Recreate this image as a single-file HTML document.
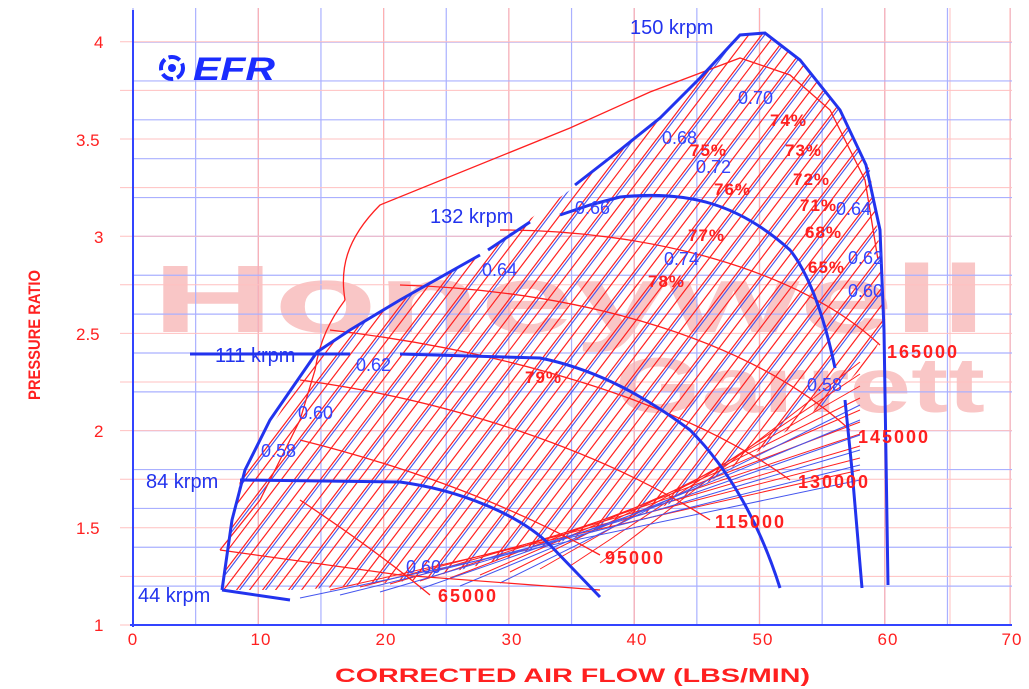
<!DOCTYPE html>
<html><head><meta charset="utf-8"><style>
html,body{margin:0;padding:0;background:#fff;}
svg{display:block;font-family:"Liberation Sans",sans-serif;}
</style></head><body>
<svg id="s" width="1029" height="689" viewBox="0 0 1029 689" xmlns="http://www.w3.org/2000/svg">
<defs>
<clipPath id="map"><polygon points="222,590 240,480 317,350 400,300 480,255 570,190 660,120 740,35 765,33 800,60 840,110 870,170 882,270 885,330 870,360 830,400 760,450 680,500 600,530 500,560 420,580 300,590"/></clipPath>
</defs>
<text x="152" y="332" font-size="96" font-weight="bold" fill="#f9c6c6" textLength="835" lengthAdjust="spacingAndGlyphs">Honeywell</text>
<text x="615" y="412" font-size="78" font-weight="bold" fill="#f9c6c6" textLength="370" lengthAdjust="spacingAndGlyphs">Garrett</text>
<g id="grid"></g>
<line x1="133" y1="10" x2="133" y2="627" stroke="#3344ff" stroke-width="2"/>
<line x1="130" y1="625" x2="1012" y2="625" stroke="#3344ff" stroke-width="2"/>
<g id="hatch" clip-path="url(#map)"></g>
<g id="extra"></g>
<path d="M345,300 C340,270 345,240 380,205 L570,128 L650,92 L740,58 L790,75 L830,110 L865,180 L878,260" fill="none" stroke="#ff2020" stroke-width="1.3"/>
<path d="M345,300 C330,320 320,340 315,370 L300,420 L260,500 L220,550" fill="none" stroke="#ff2020" stroke-width="1.3"/>
<path d="M220,550 L400,575 L600,590" fill="none" stroke="#ff2020" stroke-width="1.2"/>
<g fill="none" stroke="#ff2020" stroke-width="1.3">
<path d="M300,500 C360,540 400,570 430,595"/>
<path d="M300,440 C420,470 520,510 600,555"/>
<path d="M300,380 C450,400 600,450 710,520"/>
<path d="M330,330 C500,350 680,400 790,480"/>
<path d="M400,285 C560,290 740,330 850,430"/>
<path d="M500,230 C650,230 800,270 880,345"/>
</g>
<g fill="none" stroke="#2233ee" stroke-width="3">
<path d="M222,590 L232,520 L245,470 L270,420 L317,352 L350,330 L400,300 L480,255"/>
<path d="M488,250 L530,222"/>
<path d="M575,185 L620,150 L660,118 L700,78 L740,35 L765,33 L800,60 L840,110 L866,165 L880,230 L884,330 L888,585"/>
<path d="M560,215 L590,205 L620,197 C690,190 740,205 790,250 C810,275 825,320 835,368"/>
<path d="M190,354 L350,354"/><path d="M400,354 L540,358 C600,370 650,400 690,430 C730,470 760,525 780,588"/>
<path d="M240,480 L400,482 C460,490 520,515 550,545 L600,597"/>
<path d="M222,590 L290,600"/>
<path d="M845,400 L852,470 L862,588"/>
</g>
<g fill="#2233ee" font-size="20">
<text x="630" y="34">150 krpm</text>
<text x="430" y="223">132 krpm</text>
<text x="215" y="362">111 krpm</text>
<text x="146" y="488">84 krpm</text>
<text x="138" y="602">44 krpm</text>
</g>
<g fill="#3344ff" font-size="18">
<text x="738" y="104">0.70</text><text x="662" y="144">0.68</text><text x="696" y="173">0.72</text>
<text x="575" y="214">0.66</text><text x="482" y="276">0.64</text><text x="664" y="265">0.74</text>
<text x="836" y="215">0.64</text><text x="848" y="264">0.62</text><text x="848" y="297">0.60</text>
<text x="807" y="391">0.58</text><text x="356" y="371">0.62</text><text x="298" y="419">0.60</text>
<text x="261" y="457">0.58</text><text x="406" y="573">0.60</text>
</g>
<g fill="#ff2020" font-size="17" font-weight="bold" letter-spacing="1">
<text x="770" y="126">74%</text><text x="690" y="156">75%</text><text x="785" y="156">73%</text>
<text x="714" y="195">76%</text><text x="793" y="185">72%</text><text x="800" y="211">71%</text>
<text x="688" y="241">77%</text><text x="805" y="238">68%</text><text x="808" y="273">65%</text>
<text x="648" y="287">78%</text><text x="525" y="383">79%</text>
</g>
<g fill="#ff2020" font-size="18" font-weight="bold" letter-spacing="2">
<text x="887" y="358">165000</text><text x="858" y="443">145000</text><text x="798" y="488">130000</text>
<text x="715" y="528">115000</text><text x="605" y="564">95000</text><text x="438" y="602">65000</text>
</g>
<g fill="#ff2020" font-size="17">
<text x="94" y="48">4</text><text x="76" y="146">3.5</text><text x="94" y="243">3</text>
<text x="76" y="340">2.5</text><text x="94" y="437">2</text><text x="76" y="534">1.5</text><text x="94" y="631">1</text>
</g>
<g fill="#ff2020" font-size="17" text-anchor="middle" letter-spacing="1">
<text x="133" y="645">0</text><text x="261" y="645">10</text><text x="386" y="645">20</text><text x="512" y="645">30</text>
<text x="637" y="645">40</text><text x="763" y="645">50</text><text x="888" y="645">60</text><text x="1012" y="645">70</text>
</g>
<text x="335" y="682" fill="#ff2020" font-size="19" font-weight="bold" textLength="475" lengthAdjust="spacingAndGlyphs">CORRECTED AIR FLOW (LBS/MIN)</text>
<text transform="translate(40,335) rotate(-90)" fill="#ff2020" font-size="17" font-weight="bold" text-anchor="middle" textLength="130" lengthAdjust="spacingAndGlyphs">PRESSURE RATIO</text>
<circle cx="172" cy="68" r="11" fill="none" stroke="#1a2cff" stroke-width="4" stroke-dasharray="12 4"/>
<circle cx="172" cy="68" r="4" fill="#1a2cff"/>
<text x="193" y="80" fill="#1a2cff" font-size="32" font-weight="bold" font-style="italic" textLength="82" lengthAdjust="spacingAndGlyphs">EFR</text>
<script>
var ns="http://www.w3.org/2000/svg";
function L(g,x1,y1,x2,y2,c,w){var l=document.createElementNS(ns,"line");l.setAttribute("x1",x1);l.setAttribute("y1",y1);l.setAttribute("x2",x2);l.setAttribute("y2",y2);l.setAttribute("stroke",c);l.setAttribute("stroke-width",w);g.appendChild(l);}
var g=document.getElementById("grid");
for(var i=0;i<=14;i++){var x=133+i*62.65;L(g,x,8,x,625,"#aab0ff",1.2);}
for(var i=1;i<=7;i++){var x=133+i*125.3;L(g,x,8,x,625,"#ffb0b0",1.2);}
L(g,950,8,950,625,"#ffc0c0",1);
for(var k=0;k<16;k++){var y=625-k*38.86;L(g,133,y,1012,y,"#aab0ff",1.2);}
for(var k=0;k<13;k++){var y=625-k*48.6;L(g,120,y,1012,y,"#ffc0c0",1);}
var h=document.getElementById("hatch");
for(var x=60;x<1100;x+=13){L(h,x,600,x+440,20,"#ff2020",1.2);}
for(var x=50;x<1100;x+=26){L(h,x,600,x+440,20,"#4455ee",1.1);}
var e=document.getElementById("extra");
for(var k=0;k<10;k++){L(e,330+k*30,590-k*3,860,470-k*12,"#ff2020",1);}
for(var k=0;k<6;k++){L(e,300+k*40,598-k*3,860,480-k*15,"#4455ee",1);}
</script>
</svg>
</body></html>
